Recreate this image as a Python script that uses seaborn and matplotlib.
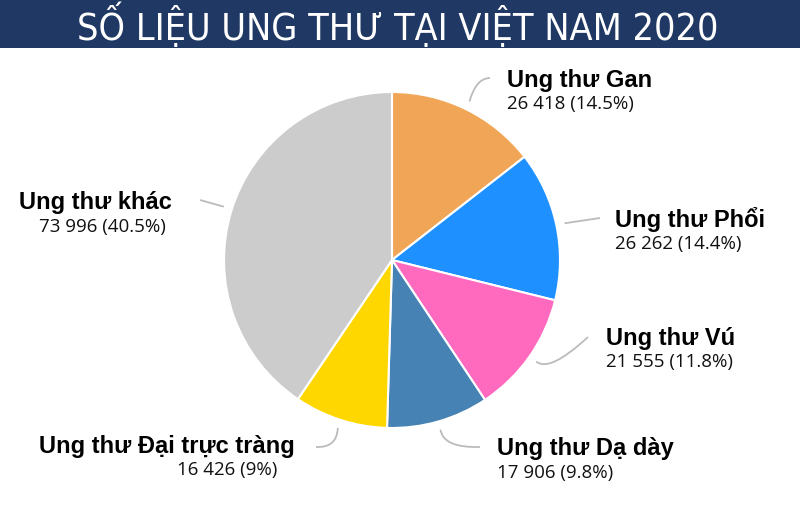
import matplotlib
matplotlib.use("Agg")
import matplotlib.pyplot as plt
from matplotlib import font_manager as fm
from matplotlib.path import Path
from matplotlib.patches import Rectangle, PathPatch
import seaborn as sns
import numpy as np

sns.set_theme(style="white")
plt.rcParams['font.family'] = ['Liberation Sans', 'DejaVu Sans']

title = "SỐ LIỆU UNG THƯ TẠI VIỆT NAM 2020"
names = ["Ung thư Gan", "Ung thư Phổi", "Ung thư Vú", "Ung thư Dạ dày",
         "Ung thư Đại trực tràng", "Ung thư khác"]
values = [26418, 26262, 21555, 17906, 16426, 73996]
pct_labels = ["14.5%", "14.4%", "11.8%", "9.8%", "9%", "40.5%"]
colors = ["#F0A656", "#1E90FF", "#FF69BE", "#4682B4", "#FFD700", "#CCCCCC"]

W, H = 800, 518
fig = plt.figure(figsize=(W / 100, H / 100), dpi=100)
ax = fig.add_axes([0, 0, 1, 1])

cx, cy, R = 392, H - 260, 168
wedges, _ = ax.pie(values, colors=colors, startangle=90, counterclock=False,
                   center=(cx, cy), radius=R, frame=True,
                   wedgeprops=dict(edgecolor="white", linewidth=1.5))
ax.set_xlim(0, W)
ax.set_ylim(0, H)
ax.set_aspect("equal")
ax.axis("off")

# title bar
ax.add_patch(Rectangle((0, H - 48), W, 48, facecolor="#1F3864", edgecolor="none", zorder=5))
narrow = [f for f in fm.fontManager.ttflist if f.name == 'Liberation Sans Narrow']
if narrow:
    tfam, tstretch, tsize = ['Liberation Sans Narrow', 'DejaVu Sans'], 'normal', 30
else:
    cond = [f for f in fm.fontManager.ttflist if f.name == 'DejaVu Sans' and f.stretch == 'condensed']
    if cond:
        tfam, tstretch, tsize = ['DejaVu Sans'], 'condensed', 27
    else:
        tfam, tstretch, tsize = ['Liberation Sans', 'DejaVu Sans'], 'normal', 25
ax.text(W / 2 - 2, H - 25, title, ha="center", va="center", color="white",
        fontsize=tsize, family=tfam, fontstretch=tstretch, zorder=6)

def fmt(v):
    return f"{v:,}".replace(",", " ")

# name position, alignment, value x, leader control point & end (pixels from top-left)
layout = [
    dict(x=507, y=80, ha="left", vx=507, ctrl=(476, 78), end=(490, 78)),
    dict(x=615, y=220, ha="left", vx=615, ctrl=None, end=(600, 218)),
    dict(x=606, y=338, ha="left", vx=606, ctrl=(549, 373), end=(588, 337)),
    dict(x=497, y=449, ha="left", vx=497, ctrl=(443, 448), end=(480, 447)),
    dict(x=295, y=446, ha="right", vx=277, ctrl=(337, 448), end=(316, 447)),
    dict(x=172, y=203, ha="right", vx=166, ctrl=None, end=(200, 200)),
]
edge_angle_override = {5: 287.6}

total = sum(values)
cum = 0
for i, (n, v, p) in enumerate(zip(names, values, pct_labels)):
    mid = (cum + v / 2) / total * 360
    cum += v
    ang = np.deg2rad(edge_angle_override.get(i, mid))
    ex = cx + R * 1.05 * np.sin(ang)
    ey = cy + R * 1.05 * np.cos(ang)
    L = layout[i]
    ax.text(L["x"], H - L["y"], n, ha=L["ha"], va="center", fontsize=17,
            fontweight="bold", color="black", zorder=6)
    ax.text(L["vx"], H - L["y"] - 24, f"{fmt(v)} ({p})", ha=L["ha"], va="center",
            fontsize=13.5, family=['Open Sans', 'DejaVu Sans'], color="#111111", zorder=6)
    lx, ly = L["end"]
    if L["ctrl"] is None:
        verts = [(ex, ey), (lx, H - ly)]
        codes = [Path.MOVETO, Path.LINETO]
    else:
        qx, qy = L["ctrl"]
        verts = [(ex, ey), (qx, H - qy), (lx, H - ly)]
        codes = [Path.MOVETO, Path.CURVE3, Path.CURVE3]
    ax.add_patch(PathPatch(Path(verts, codes), facecolor="none", edgecolor="#BBBBBB",
                           lw=1.3, zorder=1))

fig.savefig("out.png", dpi=100, facecolor="white")
